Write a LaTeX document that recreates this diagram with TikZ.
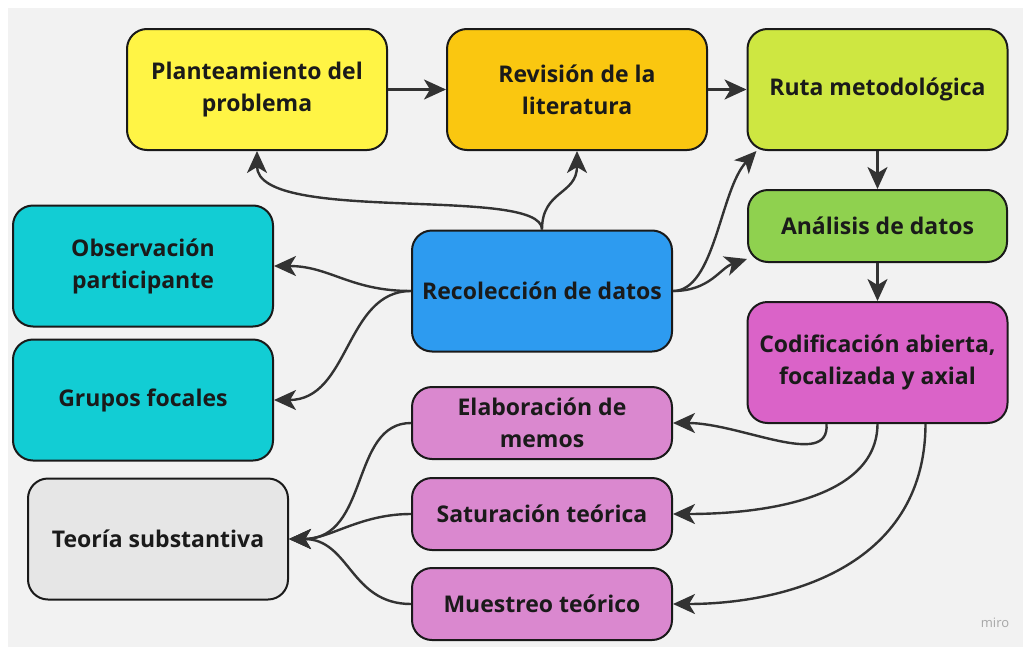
\documentclass[tikz,border=0pt]{standalone}
\usepackage{fontspec}
\setmainfont{Open Sans}
\usetikzlibrary{arrows.meta,calc}
\definecolor{bg}{HTML}{F2F2F2}
\definecolor{bd}{HTML}{1A1A1A}
\definecolor{ar}{HTML}{333333}
\definecolor{txt}{HTML}{1A1A1A}
\definecolor{cyel}{HTML}{FFF445}
\definecolor{cora}{HTML}{FAC710}
\definecolor{clim}{HTML}{CEE741}
\definecolor{cgrn}{HTML}{8FD14F}
\definecolor{cmag}{HTML}{DA63C8}
\definecolor{cpnk}{HTML}{DA88CF}
\definecolor{cblu}{HTML}{2D9BF0}
\definecolor{ccya}{HTML}{12CDD4}
\definecolor{cgry}{HTML}{E6E6E6}
\begin{document}
\begin{tikzpicture}[x=1pt,y=-1pt,
  box/.style={draw=bd,line width=2pt,rounded corners=20pt,align=center,inner sep=0pt,
    minimum width=260pt,text=txt,font=\bfseries\fontsize{23}{32}\selectfont},
  big/.style={box,minimum height=121pt},
  small/.style={box,minimum height=72pt},
  conn/.style={draw=ar,line width=2.4pt,-{Stealth[length=22pt,width=20pt,inset=6pt]}}]
\useasboundingbox (0,0) rectangle (1023,648);
\fill[white] (0,0) rectangle (1023,648);
\fill[bg] (8,8) rectangle (1023,647);

\node[big,fill=cyel] (plan) at (257,89.5) {Planteamiento del\\problema};
\node[big,fill=cora] (rev) at (577,89.5) {Revisión de la\\literatura};
\node[big,fill=clim] (ruta) at (877.5,89.5) {Ruta metodológica};
\node[small,fill=cgrn,minimum width=259pt] (anal) at (877.5,226) {Análisis de datos};
\node[big,fill=cmag] (cod) at (877.5,362.5) {Codificación abierta,\\focalizada y axial};
\node[big,fill=cblu] (rec) at (542,291) {Recolección de datos};
\node[big,fill=ccya] (obs) at (143,266) {Observación\\participante};
\node[big,fill=ccya] (grp) at (143,400) {Grupos focales};
\node[big,fill=cgry] (teo) at (158,539) {Teoría substantiva};
\node[small,fill=cpnk] (ela) at (542,423) {Elaboración de\\memos};
\node[small,fill=cpnk] (sat) at (542,514) {Saturación teórica};
\node[small,fill=cpnk] (mue) at (542,604) {Muestreo teórico};
\node[text=black!35,font=\fontsize{13}{13}\selectfont] (miro) at (995,623) {miro};

\coordinate (rutaBL) at ($(ruta.south west)+(10,0)$);
\coordinate (analL) at ($(anal.south west)+(0,-4)$);
\coordinate (codA) at ($(cod.south)+(-51,0)$);
\coordinate (codC) at ($(cod.south)+(48,0)$);

\draw[conn] (plan.east) -- (rev.west);
\draw[conn] (rev.east) -- (ruta.west);
\draw[conn] (ruta.south) -- (anal.north);
\draw[conn] (anal.south) -- (cod.north);

\draw[conn] (rec.north) .. controls (542,185) and (257,225) .. (plan.south);
\draw[conn] (rec.north) .. controls (542,190) and (577,195) .. (rev.south);
\draw[conn] (rec.west) .. controls (350,291) and (330,266) .. (obs.east);
\draw[conn] (rec.west) .. controls (345,291) and (350,400) .. (grp.east);
\draw[conn] (rec.east) .. controls (715,291) and (720,190) .. (rutaBL);
\draw[conn] (rec.east) .. controls (710,291) and (720,268) .. (analL);

\draw[conn] (codA) .. controls (830,470) and (740,423) .. (ela.east);
\draw[conn] (cod.south) .. controls (877,500) and (760,514) .. (sat.east);
\draw[conn] (codC) .. controls (925,570) and (780,604) .. (mue.east);

\draw[conn] (ela.west) .. controls (350,423) and (370,539) .. (teo.east);
\draw[conn] (sat.west) .. controls (360,514) and (330,539) .. (teo.east);
\draw[conn] (mue.west) .. controls (350,604) and (350,539) .. (teo.east);
\end{tikzpicture}
\end{document}
